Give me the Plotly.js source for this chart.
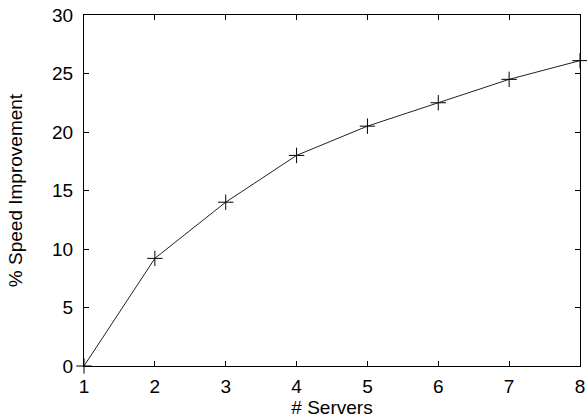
<!DOCTYPE html>
<html>
<head>
<script src="https://cdn.plot.ly/plotly-3.0.1.min.js"></script>
<style>body{margin:0;padding:0;background:#fff}#chart{width:587px;height:419px}</style>
</head>
<body>
<div id="chart"></div>
<script>
const servers = [1, 2, 3, 4, 5, 6, 7, 8];
const speedImprovement = [0, 9.2, 14.0, 18.0, 20.5, 22.5, 24.5, 26.1];
const xTicks = [1, 2, 3, 4, 5, 6, 7, 8];
const yTicks = [0, 5, 10, 15, 20, 25, 30];

const trace = {
  x: servers,
  y: speedImprovement,
  mode: 'lines+markers',
  type: 'scatter',
  line: {color: '#222', width: 1},
  marker: {symbol: 'cross-thin', size: 11, color: '#000', line: {color: '#000', width: 1}},
  cliponaxis: false,
  showlegend: false
};

const fontFam = '"Liberation Sans", Arial, Helvetica, sans-serif';
const layout = {
  width: 587, height: 419,
  margin: {l: 84, r: 7, t: 15, b: 53},
  paper_bgcolor: '#fff', plot_bgcolor: '#fff',
  font: {family: fontFam, color: '#000'},
  xaxis: {
    range: [1, 8], tickvals: xTicks, ticktext: xTicks.map(String),
    ticks: 'inside', ticklen: 5, tickcolor: '#000', tickwidth: 1,
    showline: true, mirror: 'ticks', linecolor: '#000', linewidth: 1,
    showgrid: false, zeroline: false, automargin: false,
    ticklabelstandoff: 3,
    tickfont: {size: 19, family: fontFam, color: '#000'},
    title: {text: '# Servers', font: {size: 19, family: fontFam, color: '#000'}, standoff: 3}
  },
  yaxis: {
    range: [0, 30], tickvals: yTicks, ticktext: yTicks.map(String),
    ticks: 'inside', ticklen: 5, tickcolor: '#000', tickwidth: 1,
    showline: true, mirror: 'ticks', linecolor: '#000', linewidth: 1,
    showgrid: false, zeroline: false, automargin: false,
    ticklabelstandoff: 6,
    tickfont: {size: 19, family: fontFam, color: '#000'},
    title: {text: '% Speed Improvement', font: {size: 19, family: fontFam, color: '#000'}, standoff: 24}
  }
};

Plotly.newPlot('chart', [trace], layout, {displayModeBar: false, staticPlot: true});
</script>
</body>
</html>
